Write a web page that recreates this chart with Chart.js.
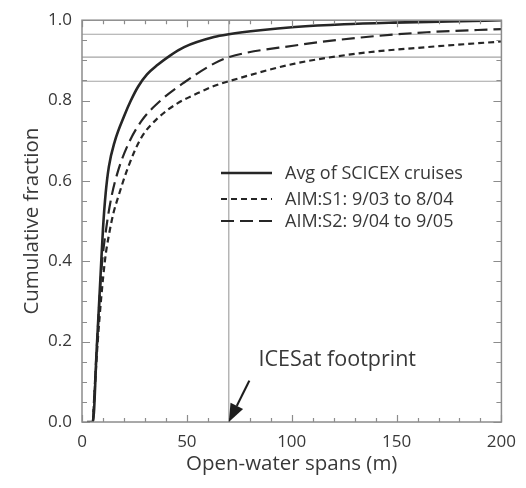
<!DOCTYPE html>
<html><head><meta charset="utf-8">
<script src="https://cdn.jsdelivr.net/npm/chart.js@4.4.1/dist/chart.umd.min.js"></script>
<style>html,body{margin:0;padding:0;background:#fff}#wrap{width:526px;height:488px;position:relative}</style>
</head><body><div id="wrap"><canvas id="c"></canvas></div>
<script>
// ---- data ----
const scicexX = [2.4, 5.2, 7, 8.7, 10, 11.3, 12.8, 15.6, 20.3, 23.3, 26.8, 31, 36.1, 42, 48.7, 62.9, 70, 85, 101.5, 125, 148.8, 175, 200];
const scicexY = [0, 0, 0.18, 0.35, 0.48, 0.57, 0.635, 0.698, 0.764, 0.80, 0.835, 0.865, 0.889, 0.912, 0.933, 0.958, 0.965, 0.975, 0.983, 0.99, 0.994, 0.997, 1.0];
const s1X = [5.2, 7.5, 10.9, 13, 15, 17.2, 21.9, 28.2, 36.1, 45.5, 55, 62.9, 70, 101.5, 133, 164.5, 200];
const s1Y = [0, 0.2, 0.40, 0.47, 0.52, 0.559, 0.633, 0.707, 0.756, 0.793, 0.818, 0.836, 0.848, 0.892, 0.918, 0.933, 0.947];
const s2X = [5.2, 7, 9.3, 11.5, 14, 17.2, 21.9, 28.2, 37.7, 48.7, 62.9, 70, 101.5, 133, 164.5, 200];
const s2Y = [0, 0.18, 0.38, 0.48, 0.559, 0.625, 0.69, 0.748, 0.801, 0.845, 0.892, 0.908, 0.937, 0.957, 0.97, 0.978];
const seriesLabels = ['Avg of SCICEX cruises', 'AIM:S1: 9/03 to 8/04', 'AIM:S2: 9/04 to 9/05'];
const refLevels = [0.965, 0.908, 0.848];   // values of the three curves at the footprint size
const footprintX = 70;                     // ICESat footprint (m)
const xTickValues = [0, 50, 100, 150, 200];
const yTickValues = [0, 0.2, 0.4, 0.6, 0.8, 1.0];
const xTitle = 'Open-water spans (m)';
const yTitle = 'Cumulative fraction';
const footprintLabel = 'ICESat footprint';

// ---- styles ----
const FONT = "'Open Sans', 'DejaVu Sans', sans-serif";
const TEXT = '#383838', FRAME = '#8c8c8c', REF = '#a4a4a4', CURVE = '#262626';
const pts = (xs, ys) => xs.map((x, i) => ({x, y: ys[i]}));

const datasets = [
  {label: seriesLabels[0], data: pts(scicexX, scicexY), borderColor: CURVE, borderWidth: 2.6, borderDash: [], order: 0},
  {label: seriesLabels[1], data: pts(s1X, s1Y), borderColor: CURVE, borderWidth: 2.2, borderDash: [6, 4], order: 0},
  {label: seriesLabels[2], data: pts(s2X, s2Y), borderColor: CURVE, borderWidth: 2.2, borderDash: [13, 6], order: 0},
].map(d => Object.assign(d, {showLine: true, pointRadius: 0, cubicInterpolationMode: 'monotone', fill: false}));

refLevels.forEach(v => datasets.push({label: 'ref', data: [{x: 0, y: v}, {x: 200, y: v}], borderColor: REF, borderWidth: 1.2, showLine: true, pointRadius: 0, order: 5, isRef: true}));
datasets.push({label: 'ref', data: [{x: footprintX, y: 0}, {x: footprintX, y: 1}], borderColor: REF, borderWidth: 1.2, showLine: true, pointRadius: 0, order: 5, isRef: true});

const framePlugin = {
  id: 'frame',
  afterDatasetsDraw(chart) {
    const {ctx, chartArea: a, scales: {x, y}} = chart;
    ctx.save();
    ctx.strokeStyle = FRAME; ctx.lineWidth = 1.5;
    ctx.strokeRect(a.left, a.top, a.right - a.left, a.bottom - a.top);
    ctx.lineWidth = 1.2;
    ctx.beginPath();
    for (let v = 0; v <= 200; v += 10) {
      const px = Math.round(x.getPixelForValue(v)) + 0.5;
      const len = v % 50 === 0 ? 7 : 4;
      ctx.moveTo(px, a.bottom); ctx.lineTo(px, a.bottom - len);
      ctx.moveTo(px, a.top); ctx.lineTo(px, a.top + len);
    }
    for (let i = 0; i <= 20; i++) {
      const v = i * 0.05;
      const py = Math.round(y.getPixelForValue(v)) + 0.5;
      const len = i % 4 === 0 ? 8 : 5;
      ctx.moveTo(a.left, py); ctx.lineTo(a.left + len, py);
      ctx.moveTo(a.right, py); ctx.lineTo(a.right - len, py);
    }
    ctx.stroke();

    // legend
    const lx0 = a.left + 139, lx1 = a.left + 190, tx = a.left + 203;
    const rows = [173, 199, 221];
    ctx.font = '18px ' + FONT; ctx.fillStyle = TEXT; ctx.textBaseline = 'middle';
    chart.data.datasets.slice(0, 3).forEach((d, i) => {
      ctx.strokeStyle = d.borderColor; ctx.lineWidth = d.borderWidth;
      ctx.setLineDash(d.borderDash);
      ctx.beginPath(); ctx.moveTo(lx0, rows[i]); ctx.lineTo(lx1, rows[i]); ctx.stroke();
      ctx.setLineDash([]);
      ctx.fillText(d.label, tx, rows[i] + 1);
    });

    // ICESat footprint arrow and label
    const tipX = x.getPixelForValue(footprintX), tipY = y.getPixelForValue(0);
    const tailX = x.getPixelForValue(79.8), tailY = y.getPixelForValue(0.103);
    const ang = Math.atan2(tipY - tailY, tipX - tailX);
    const hl = 18, hw = 7;
    const bx = tipX - hl * Math.cos(ang), by = tipY - hl * Math.sin(ang);
    ctx.strokeStyle = '#1e1e1e'; ctx.fillStyle = '#1e1e1e'; ctx.lineWidth = 2.2;
    ctx.beginPath(); ctx.moveTo(tailX, tailY); ctx.lineTo(bx, by); ctx.stroke();
    ctx.beginPath();
    ctx.moveTo(tipX, tipY);
    ctx.lineTo(bx + hw * Math.sin(ang), by - hw * Math.cos(ang));
    ctx.lineTo(bx - hw * Math.sin(ang), by + hw * Math.cos(ang));
    ctx.closePath(); ctx.fill();

    ctx.font = '21.5px ' + FONT; ctx.fillStyle = TEXT; ctx.textBaseline = 'middle'; ctx.textAlign = 'left';
    ctx.fillText(footprintLabel, x.getPixelForValue(84.2), y.getPixelForValue(0.155));
    ctx.restore();
  }
};

new Chart(document.getElementById('c'), {
  type: 'scatter',
  data: {datasets},
  options: {
    responsive: true, maintainAspectRatio: false, animation: false,
    layout: {padding: {left: 0, right: 21, top: 16, bottom: 0}},
    plugins: {legend: {display: false}, tooltip: {enabled: false}},
    scales: {
      x: {
        type: 'linear', min: 0, max: 200,
        afterBuildTicks: s => { s.ticks = xTickValues.map(v => ({value: v})); },
        ticks: {padding: 10, color: TEXT, font: {family: FONT, size: 17}, maxRotation: 0},
        grid: {display: false, drawTicks: false},
        border: {display: false},
        title: {display: true, text: xTitle, color: TEXT, font: {family: FONT, size: 20.5}, padding: {top: 0, bottom: 12}},
        afterFit: s => { s.height = 66; }
      },
      y: {
        type: 'linear', min: 0, max: 1,
        afterBuildTicks: s => { s.ticks = yTickValues.map(v => ({value: v})); },
        ticks: {padding: 10, color: TEXT, font: {family: FONT, size: 17}, callback: v => Number(v).toFixed(1)},
        grid: {display: false, drawTicks: false},
        border: {display: false},
        title: {display: true, text: yTitle, color: TEXT, font: {family: FONT, size: 20.5}, padding: {top: 20, bottom: 0}},
        afterFit: s => { s.width = 82; }
      }
    }
  },
  plugins: [framePlugin]
});
</script></body></html>
